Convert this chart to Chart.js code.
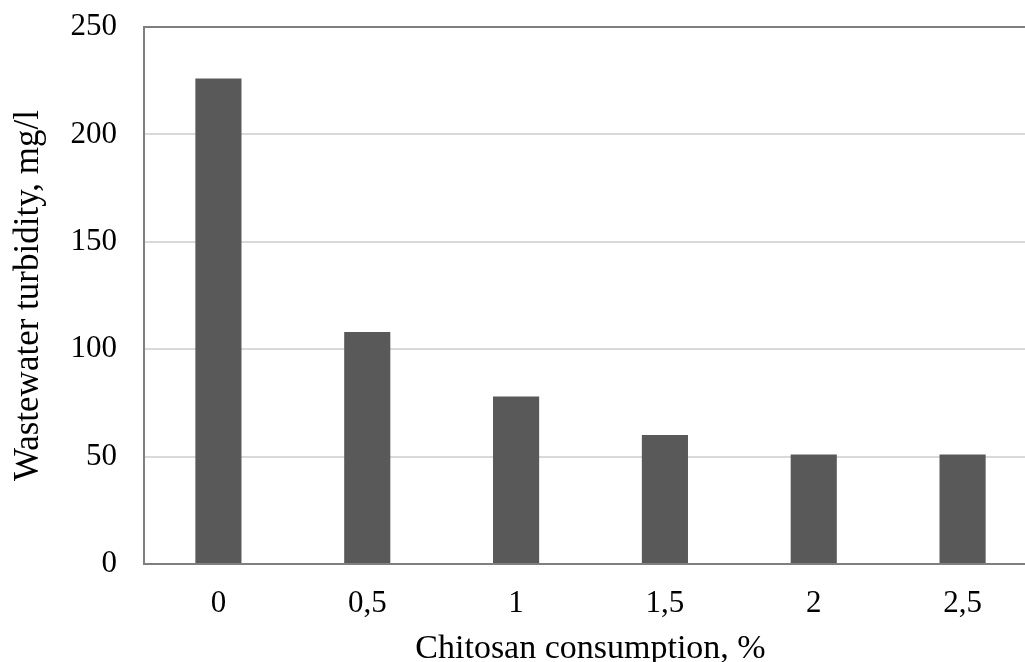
<!DOCTYPE html>
<html>
<head>
<meta charset="utf-8">
<script src="https://cdn.jsdelivr.net/npm/chart.js@4"></script>
<style>
  html, body { margin: 0; padding: 0; background: #fff; overflow: hidden; }
  #wrap { width: 1040px; height: 662px; }
</style>
</head>
<body>
<div id="wrap"><canvas id="myChart"></canvas></div>
<script>
var consumption = ['0', '0,5', '1', '1,5', '2', '2,5'];
var turbidity = [226, 108, 78, 60, 51, 51];
var yTicks = [0, 50, 100, 150, 200, 250];

var serif = "'Liberation Serif', 'Times New Roman', serif";

var ctx = document.getElementById('myChart').getContext('2d');
var myChart = new Chart(ctx, {
    type: 'bar',
    data: {
        labels: consumption,
        datasets: [{
            data: turbidity,
            backgroundColor: '#595959',
            borderWidth: 0,
            categoryPercentage: 1,
            barPercentage: 0.31
        }]
    },
    options: {
        responsive: true,
        maintainAspectRatio: false,
        animation: false,
        layout: { padding: { top: 27, right: 3, left: 8, bottom: 0 } },
        plugins: {
            legend: { display: false },
            tooltip: { enabled: false }
        },
        scales: {
            x: {
                afterFit: function (axis) { axis.height = 98; },
                grid: { display: false, drawTicks: false },
                border: { color: '#7f7f7f', width: 2 },
                ticks: { color: '#000', padding: 21, font: { family: serif, size: 31 } },
                title: {
                    display: true,
                    text: 'Chitosan consumption, %',
                    color: '#000',
                    padding: { top: 0, bottom: -4 },
                    font: { family: serif, size: 34, lineHeight: 1 }
                }
            },
            y: {
                min: 0,
                max: 250,
                afterBuildTicks: function (axis) {
                    axis.ticks = yTicks.map(function (v) { return { value: v }; });
                },
                afterFit: function (axis) {
                    axis.width = 136;
                    axis.paddingTop = 0;
                    axis.paddingBottom = 0;
                },
                grid: {
                    drawTicks: false,
                    lineWidth: 2,
                    color: function (c) { return c.tick && c.tick.value === 250 ? '#7f7f7f' : '#d9d9d9'; }
                },
                border: { color: '#7f7f7f', width: 2 },
                ticks: { color: '#000', padding: 27, font: { family: serif, size: 31 } },
                title: {
                    display: true,
                    text: 'Wastewater turbidity, mg/l',
                    color: '#000',
                    padding: { top: 0, bottom: 0 },
                    font: { family: serif, size: 35 }
                }
            }
        }
    }
});
</script>
</body>
</html>
